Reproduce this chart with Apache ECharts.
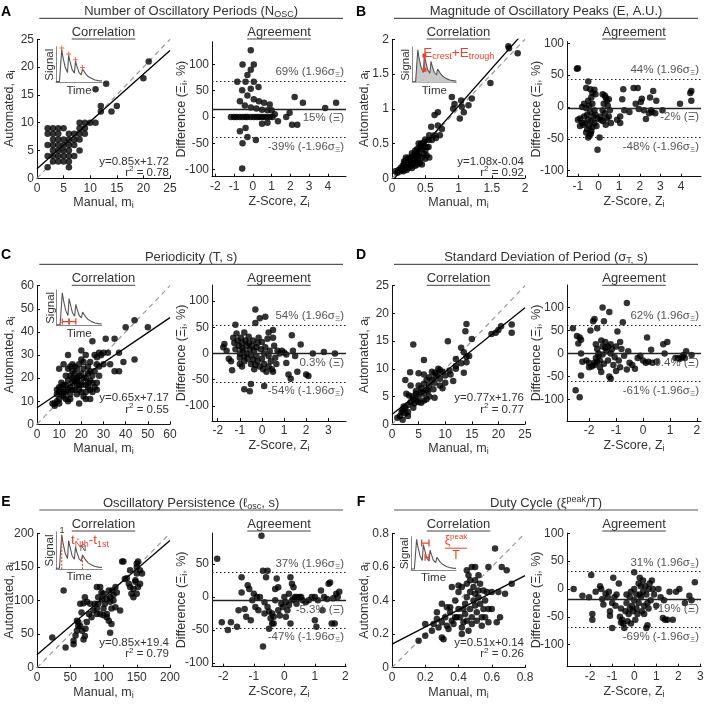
<!DOCTYPE html>
<html><head><meta charset="utf-8">
<script src="https://cdn.jsdelivr.net/npm/echarts@6/dist/echarts.min.js"></script>
<style>html,body{margin:0;padding:0;background:#fff}#c{width:708px;height:704px}</style>
</head><body><div id="c"></div>
<script>
// ---------------- DATA ----------------
const corrA = [[2,2],[2,4],[2,6],[2,8],[2,9],[3,3],[3,4],[3,5],[3,6],[3,7],[3,8],[3,9],[4,3],[4,4],[4,5],[4,6],[4,7],[4,8],[4,9],[5,3],[5,4],[5,5],[5,6],[5,7],[5,9],[6,2],[6,3],[6,4],[6,5],[6,6],[6,7],[6,8],[7,4],[7,6],[7,7],[7,8],[8,5],[8,7],[8,8],[8,9],[8,10],[9,8],[9,9],[9,10],[10,10],[11,10],[11,16],[12,12],[12,13],[13,17],[14,12],[15,13],[20,18],[21,21]];
const agrA = [[-0.11,127],[-0.55,100],[0.05,100],[-0.11,90],[-0.29,80],[-0.83,67],[-0.39,67],[0.05,67],[0.3,57],[-0.57,51],[-0.11,54],[-0.29,41],[0.05,34],[0.32,30],[0.6,27],[0.9,24],[-0.69,30],[-0.43,22],[-0.11,18],[0.19,16],[0.49,14],[0.78,13],[1.0,13],[1.17,5],[1.34,-8],[-1.17,0],[-1.0,0],[-0.87,0],[-0.7,0],[-0.55,0],[-0.4,0],[-0.29,0],[-0.11,0],[0.05,0],[0.2,0],[0.33,0],[0.47,0],[0.6,0],[0.75,0],[0.9,0],[1.05,0],[0.49,-13],[0.78,-11],[1.78,0],[1.96,8],[2.23,38],[2.09,-15],[2.37,-15],[2.67,27],[3.86,17],[4.44,27],[-0.69,-27],[-0.39,-21],[-0.29,-38],[-0.55,-50],[0.16,-44],[-0.57,-98]];

const corrB = [[1.75,1.9],[1.76,1.87],[1.89,1.8],[1.48,1.37],[1.2,1.15],[1.04,1.12],[0.9,1.17],[1.15,1.05],[0.94,1.07],[1.05,1.03],[0.92,1.0],[1.08,0.95],[1.02,0.86],[0.64,0.91],[0.69,0.95],[0.59,0.74],[0.69,0.76],[0.75,0.71],[0.72,0.62],[0.64,0.62],[0.66,0.58],[0.56,0.62],[0.6,0.55],[0.55,0.55],[0.5,0.56],[0.48,0.52],[0.44,0.5],[0.4,0.5],[0.47,0.47],[0.52,0.45],[0.5,0.4],[0.55,0.45],[0.45,0.42],[0.42,0.45],[0.38,0.42],[0.35,0.4],[0.4,0.38],[0.48,0.35],[0.52,0.33],[0.45,0.3],[0.56,0.3],[0.38,0.35],[0.34,0.34],[0.3,0.36],[0.3,0.3],[0.33,0.28],[0.28,0.28],[0.35,0.25],[0.4,0.25],[0.42,0.22],[0.38,0.2],[0.32,0.22],[0.28,0.24],[0.25,0.26],[0.22,0.27],[0.2,0.25],[0.25,0.2],[0.22,0.22],[0.3,0.2],[0.27,0.17],[0.24,0.15],[0.2,0.18],[0.18,0.2],[0.16,0.18],[0.19,0.14],[0.15,0.12],[0.13,0.15],[0.12,0.1],[0.1,0.12],[0.17,0.1],[0.22,0.12],[0.3,0.15],[0.35,0.18],[0.05,0.1],[0.08,0.08],[0.26,0.3],[0.32,0.32],[0.45,0.2],[0.5,0.28],[0.36,0.3],[0.18,0.24],[0.21,0.3],[0.4,0.32]];
const agrB = [[-1.05,60],[-1.0,61],[-0.5,40],[-0.6,30],[-0.4,28],[-0.2,27],[-0.3,22],[-0.15,20],[-0.35,15],[-0.5,10],[-0.7,5],[-0.8,0],[-0.6,-2],[-0.45,2],[-0.3,5],[-0.2,-5],[-0.4,-8],[-0.55,-12],[-0.7,-15],[-0.9,-18],[-0.8,-25],[-1.0,-20],[-0.65,-25],[-0.5,-20],[-0.35,-22],[-0.25,-15],[-0.45,-30],[-0.55,-35],[-0.35,-38],[-0.3,-32],[-0.45,-45],[-0.38,-42],[-0.5,-48],[-0.2,-25],[-0.1,-30],[-0.15,-12],[-0.05,-18],[0.1,-20],[-0.75,-28],[-0.9,-30],[-0.6,-40],[0.05,-48],[-0.05,-67],[0.2,20],[0.3,18],[0.35,15],[0.4,10],[0.5,12],[0.45,2],[0.25,5],[0.2,-5],[0.3,-10],[0.1,-15],[0.2,-22],[0.4,-18],[0.5,-15],[0.35,-28],[0.6,-25],[0.55,-5],[0.9,-20],[1.05,-15],[1.05,-25],[1.15,12],[1.2,28],[1.25,-5],[1.5,-8],[1.7,30],[1.8,5],[1.9,30],[1.95,-3],[2.05,8],[2.1,13],[2.3,-19],[2.2,-5],[2.5,15],[2.45,-10],[2.55,-5],[2.6,-8],[2.65,25],[2.8,10],[2.75,-10],[3.1,-5],[3.95,5],[4.45,22],[4.5,25],[4.5,10]];

const corrC = [[44,45],[50,42],[40,42],[44,28],[39,27],[35,37],[37,31],[31,37],[32,31],[28,31],[30,26],[33,26],[35,23],[37,23],[25,36],[20,32],[14,30],[10,24],[24,11],[22,11],[27,15],[7,9],[8,8],[8,9],[9,10],[10,11],[9,13],[10,14],[11,13],[12,12],[13,14],[11,16],[12,17],[14,15],[15,13],[13,11],[15,16],[16,18],[14,19],[13,21],[15,21],[16,20],[17,22],[18,17],[17,15],[18,13],[19,15],[20,18],[19,21],[18,24],[17,25],[16,23],[15,25],[20,22],[21,24],[22,20],[22,17],[23,22],[24,19],[25,21],[23,25],[21,27],[24,27],[26,23],[27,18],[27,26],[26,30],[27,29],[28,25],[22,14],[23,16],[25,14],[20,14],[21,12],[19,17],[18,20],[14,24],[16,26],[19,26],[20,28],[22,30],[12,26],[11,18],[10,16],[9,15],[13,17],[17,19],[21,20],[24,23],[20,17],[15,11],[14,10],[10,9],[26,16],[28,21],[29,30],[12,14],[16,15],[18,19],[23,18],[24,15],[19,9],[25,18],[30,31]];
const agrC = [[-0.3,84],[0.15,70],[-0.1,67],[-0.3,58],[-1.2,55],[0.5,45],[0.3,40],[-0.8,40],[-1.7,18],[-1.75,12],[-1.6,5],[-1.5,-10],[-1.4,-15],[-1.35,-32],[-1.3,30],[-1.25,20],[-1.2,8],[-1.15,38],[-1.1,25],[-1.05,15],[-1.0,0],[-1.0,-8],[-0.95,30],[-0.9,20],[-0.9,10],[-0.85,5],[-0.8,-5],[-0.8,-15],[-0.75,25],[-0.7,15],[-0.7,0],[-0.65,-10],[-0.6,32],[-0.6,20],[-0.55,8],[-0.5,-3],[-0.5,-20],[-0.45,15],[-0.4,25],[-0.4,-12],[-0.35,5],[-0.35,-30],[-0.3,-22],[-0.25,12],[-0.25,-5],[-0.2,20],[-0.2,-15],[-0.15,30],[-0.1,-25],[-0.05,8],[0.0,-10],[0.0,22],[0.05,-30],[0.1,0],[0.1,-20],[0.15,12],[0.2,-35],[0.25,28],[0.3,-5],[0.3,-25],[0.35,5],[0.4,-15],[0.45,-30],[0.5,30],[0.55,15],[0.6,-8],[0.65,-20],[0.7,5],[0.8,0],[0.9,5],[1.0,2],[1.1,-2],[1.2,-40],[1.3,-48],[1.35,35],[1.4,5],[1.5,-5],[1.6,-35],[1.75,17],[2.0,-40],[2.1,-43],[2.3,0],[2.8,3],[3.3,0],[-0.8,-68],[-0.55,-72],[-0.5,-58],[0.1,-62],[0.5,-35],[-1.0,-20],[-0.9,-25],[1.1,-18]];

const corrD = [[22.5,18],[22.5,16.5],[20.5,17.7],[20,17],[19.5,16.5],[18.7,16.3],[14,18.1],[13.8,16.8],[15,15.4],[10.5,15],[4,14.4],[13,13.8],[13.5,13],[14.5,12.3],[13,11],[14,11.2],[13.5,9.3],[12,11.8],[12,10.5],[11,9],[11.5,7.8],[10.8,9.7],[9.5,9.5],[8.7,10],[8,9.3],[7.5,8],[6,11.6],[5,9.2],[3.4,9.4],[2.5,8],[3.5,7],[2.7,5.5],[3.2,5.2],[4.5,6],[5,7],[5.5,6.5],[6,7.3],[6.5,8],[7,8.5],[6,5.5],[5,5],[4,4.5],[3.5,4],[2.5,3],[2,2.5],[1.5,1.5],[1,1.2],[2,0.8],[3,1.5],[2.5,2],[4,3],[5,4],[6,4.3],[7,5],[8,4.8],[8,7.5],[9,7],[9.5,6.5],[10,7.5],[8.5,9],[7,7],[6.5,6.2],[5.5,5.8],[4.5,5.5],[3,3.5],[2.2,3.2],[1.8,2.2],[3.8,5],[4.2,3.8],[6.8,6],[7.8,6.3],[9,8.2],[10,8.8],[6,9],[7.5,9.5],[8.2,8.7],[9,9.8],[12,10],[14,12.2],[3,2.2],[4.5,4.3],[5.5,3.9],[6.5,4.5]];
const agrD = [[-2.6,55],[-2.45,38],[-2.4,22],[-2.35,35],[-2.3,30],[-2.3,0],[-2.25,-18],[-2.3,-48],[-2.5,-80],[-2.35,-95],[-2.1,-15],[-2.0,-20],[-1.95,50],[-1.85,70],[-1.8,75],[-1.9,-28],[-1.8,-25],[-1.75,-10],[-1.7,10],[-1.75,20],[-1.65,-5],[-1.6,-30],[-1.55,-40],[-1.5,100],[-1.45,70],[-1.7,55],[-1.5,15],[-1.4,25],[-1.35,5],[-1.3,-15],[-1.25,90],[-1.2,20],[-1.25,-50],[-1.2,-55],[-1.15,10],[-1.1,-25],[-1.0,15],[-1.0,-38],[-0.95,48],[-0.85,-30],[-0.8,10],[-0.75,68],[-0.7,-5],[-0.6,110],[-0.55,5],[-0.6,-35],[-0.5,-20],[-0.4,-25],[-0.3,-33],[-0.2,-10],[-0.1,-5],[0,-15],[0.1,-20],[0.15,35],[0.2,-18],[0.3,8],[0.35,-20],[0.5,-18],[0.75,20],[0.8,0],[0.9,25],[1.2,-10],[1.3,-10],[1.35,-12],[1.45,-8],[1.5,-3],[1.55,-10],[1.6,5],[1.8,-3],[-1.6,-15],[-1.65,0],[-1.5,-2],[-1.45,-22],[-1.4,12],[-1.2,0],[-1.05,-8],[-0.9,-15],[-0.85,25],[-1.3,15],[-1.55,28],[-1.8,-20],[-2.0,-30],[-1.7,-18]];

const corrE = [[23,45],[43,30],[40,115],[55,35],[55,40],[58,48],[60,55],[62,62],[62,68],[60,70],[65,62],[68,55],[70,42],[72,47],[73,58],[75,68],[78,80],[65,95],[67,82],[70,96],[75,98],[72,105],[85,85],[87,95],[90,120],[95,120],[92,105],[97,112],[90,88],[90,80],[95,80],[100,88],[100,78],[105,80],[105,75],[108,70],[110,52],[112,65],[102,95],[105,102],[110,98],[115,108],[112,88],[118,90],[118,120],[113,115],[115,100],[120,112],[125,85],[128,158],[130,158],[132,132],[135,133],[138,125],[140,120],[142,110],[145,117],[148,128],[150,140],[150,150],[152,158],[155,145],[158,140],[155,125],[152,120],[150,110],[145,105],[148,130],[140,145],[150,155],[98,102],[92,95],[80,95],[82,75],[100,110],[108,115],[110,105]];
const agrE = [[-2.2,58],[-2.05,-38],[-1.85,-50],[-1.75,-38],[-1.55,-45],[-1.5,-20],[-1.4,30],[-1.4,7],[-1.3,-18],[-1.25,-30],[-1.2,18],[-1.15,12],[-1.1,-35],[-1.05,-5],[-1.0,5],[-0.95,-15],[-0.9,0],[-0.85,-20],[-0.8,0],[-0.75,93],[-0.7,40],[-0.7,-75],[-0.65,-8],[-0.6,30],[-0.55,40],[-0.55,-15],[-0.5,-48],[-0.5,-22],[-0.45,-32],[-0.4,-40],[-0.4,-25],[-0.35,-30],[-0.3,-5],[-0.3,12],[-0.25,28],[-0.2,-20],[-0.15,-28],[-0.1,-10],[-0.05,-15],[0,0],[0.05,-8],[0.1,-20],[0.15,5],[0.2,30],[0.2,-40],[0.25,-5],[0.3,15],[0.3,-3],[0.35,0],[0.4,0],[0.45,-2],[0.5,0],[0.55,0],[0.6,-5],[0.7,-8],[0.8,-5],[0.9,0],[1.0,-35],[1.05,-45],[1.1,-5],[1.2,10],[1.3,0],[1.4,-3],[1.45,20],[1.5,22],[1.55,-40],[1.6,-2],[1.65,-40],[1.7,5],[1.75,0],[1.8,8],[-0.2,15],[0.05,-30],[-0.65,-25],[0.25,20],[0.15,-12],[0.4,-10],[1.0,0],[1.25,-20],[-0.35,-40]];

const corrF = [[0.16,0.16],[0.2,0.19],[0.2,0.26],[0.24,0.22],[0.25,0.26],[0.27,0.29],[0.28,0.24],[0.3,0.18],[0.31,0.17],[0.3,0.27],[0.32,0.3],[0.33,0.25],[0.34,0.23],[0.33,0.36],[0.35,0.33],[0.36,0.28],[0.37,0.26],[0.38,0.3],[0.36,0.48],[0.38,0.4],[0.4,0.45],[0.4,0.35],[0.41,0.3],[0.42,0.24],[0.42,0.2],[0.43,0.27],[0.44,0.32],[0.44,0.38],[0.45,0.42],[0.45,0.5],[0.46,0.55],[0.47,0.45],[0.47,0.35],[0.48,0.3],[0.48,0.26],[0.49,0.4],[0.49,0.48],[0.5,0.52],[0.5,0.37],[0.51,0.33],[0.51,0.28],[0.52,0.42],[0.52,0.46],[0.53,0.38],[0.54,0.3],[0.54,0.25],[0.55,0.35],[0.55,0.46],[0.56,0.4],[0.57,0.45],[0.58,0.35],[0.58,0.6],[0.6,0.45],[0.62,0.71],[0.63,0.27],[0.64,0.45],[0.65,0.3],[0.66,0.6],[0.68,0.44],[0.69,0.58],[0.72,0.5],[0.48,0.6],[0.45,0.58],[0.4,0.49],[0.42,0.48],[0.5,0.6],[0.52,0.55],[0.3,0.38],[0.35,0.36],[0.27,0.33],[0.45,0.28],[0.46,0.22],[0.39,0.3],[0.43,0.35],[0.5,0.44],[0.47,0.52],[0.53,0.5],[0.56,0.3],[0.6,0.35],[0.58,0.27]];
const agrF = [[-2.75,0],[-2.35,-12],[-2.05,-15],[-1.95,25],[-1.9,-45],[-1.9,-55],[-1.75,-5],[-1.55,5],[-1.5,0],[-1.45,-18],[-1.4,-28],[-1.3,-8],[-1.2,-15],[-1.15,-5],[-1.1,-40],[-1.1,-48],[-1.0,-25],[-1.0,-70],[-0.95,20],[-0.9,-15],[-0.85,-30],[-0.8,-10],[-0.7,10],[-0.65,-50],[-0.6,-60],[-0.55,-55],[-0.5,-62],[-0.45,-70],[-0.4,-40],[-0.35,-25],[-0.3,-58],[-0.25,-45],[-0.2,-35],[-0.2,-15],[-0.15,-5],[-0.1,-30],[-0.05,-40],[0,-20],[0,0],[0,30],[0.05,-55],[0.1,-35],[0.1,-10],[0.15,-45],[0.2,-25],[0.2,10],[0.25,20],[0.3,-15],[0.35,-40],[0.4,15],[0.4,-5],[0.45,-30],[0.5,5],[0.55,-10],[0.55,-70],[0.6,-25],[0.6,-65],[0.65,0],[0.7,10],[0.75,-20],[0.8,15],[0.85,0],[0.9,-10],[1.0,-30],[1.1,0],[1.2,-15],[1.3,-52],[1.35,-20],[1.4,-55],[1.5,-55],[1.6,-5],[1.75,-55],[1.9,-5],[2.05,0],[2.3,-25],[2.5,-12],[2.6,-20],[2.75,12],[-0.35,-10],[-0.6,-35],[0.3,5],[0.45,-45],[-0.15,-62],[0.25,-10],[0.65,-35]];

const fitSlope = [0.85, 1.08, 0.65, 0.77, 0.85, 0.51];
const fitIntercept = [1.72, -0.04, 7.17, 1.76, 19.4, 0.14];
const fitR2 = [0.78, 0.92, 0.55, 0.77, 0.79, 0.26];
const meanDiff = [15, -2, 0.3, -0.4, -5.3, -19];
const upperLoA = [69, 44, 54, 62, 37, 31];
const lowerLoA = [-39, -48, -54, -61, -47, -69];

const corrTicks = [[0,5,10,15,20,25],[0,0.5,1,1.5,2],[0,10,20,30,40,50,60],[0,5,10,15,20,25],[0,50,100,150,200],[0,0.2,0.4,0.6,0.8]];
const agrXTicks = [[-2,-1,0,1,2,3,4],[-1,0,1,2,3,4],[-2,-1,0,1,2,3],[-2,-1,0,1,2],[-2,-1,0,1,2],[-2,-1,0,1,2,3]];
const agrYTicks = [[-100,-50,0,50,100],[-100,-50,0,50,100],[-100,-50,0,50,100],[-100,-50,0,50,100],[-100,-50,0,50],[-100,-50,0,50,100]];

const panelLetters = ['A','B','C','D','E','F'];
const panelTitles = ['Number of Oscillatory Periods (N{sub|OSC})','Magnitude of Oscillatory Peaks (E, A.U.)','Periodicity (T, s)','Standard Deviation of Period (σ{sub|T,} s)','Oscillatory Persistence (ℓ{sub|osc}, s)','Duty Cycle (ξ{sup|peak}/T)'];

// schematic signal for insets
const sigT = [0,3,4,5,6,8,10,11,12,14,16,17,18,20,22,23,24,26,28,31,34,37,40];
const sigY = [0.03,0.03,0.5,0.97,0.75,0.45,0.3,0.8,0.65,0.38,0.28,0.63,0.5,0.3,0.23,0.4,0.35,0.25,0.18,0.12,0.08,0.06,0.05];
const peakT = [5,11,17,23];
const peakY = [0.97,0.8,0.63,0.4];

// ---------------- LAYOUT ----------------
const FONT = '"Liberation Sans", Arial, sans-serif';
const TXT = '#333';
const RED = '#e8432e';
const corrData = [corrA, corrB, corrC, corrD, corrE, corrF];
const agrData = [agrA, agrB, agrC, agrD, agrE, agrF];
const corrMax = [25, 2, 60, 25, 200, 0.8];
const agrXRange = [[-2.18,4.97],[-1.53,4.97],[-2.26,3.8],[-2.82,2.15],[-2.37,2.02],[-3.05,3.03]];
const agrYRange = [[-113.7,143.4],[-109.5,102.6],[-128.6,130.5],[-146.7,148.9],[-105.5,97],[-139.4,100.4]];

const colCorrL = [37, 392], colAgrL = [212, 567], corrW = 133, agrW = 134;
const rowCorrT = [39.3, 285.7, 533.3], rowCorrH = [139, 138.6, 134.4];
const rowAgrT = [41.7, 285, 533], rowAgrH = [135, 136, 133.7];
const rowLetterY = [12, 255, 502], rowTitleY = [11.5, 257, 503], rowLineY = [18.3, 264.3, 510], rowSubY = [32, 278.3, 524];
const rowEqY = [[161.7,172.7],[397.5,410],[642.7,654.3]];
const titleSpan = [[39.3,343],[394,698]];
const insetBox = {0:[56,46.7,46,36],1:[412.3,47,44,35.7],2:[56.7,290,45,35.7],4:[56,531.7,46,37.6],5:[411,536.7,45,33.3]};

function richFor(color, fs){
  return {
    sub:{fontSize:Math.round(fs*0.7), lineHeight:8, verticalAlign:'bottom', fontFamily:FONT, color},
    sup:{fontSize:Math.round(fs*0.7), lineHeight:8, verticalAlign:'top', fontFamily:FONT, color}
  };
}

const grids=[], xAxes=[], yAxes=[], series=[], graphics=[];
function fmt(v){ return String(Math.round(v*100)/100); }

function addGrid(box){ grids.push(box); return grids.length-1; }
function addAxisPair(gi, xmin, xmax, xt, ymin, ymax, yt, xname, yname, xGap, yGap){
  const common = {type:'value', gridIndex:gi, splitLine:{show:false}, nameLocation:'middle', nameMoveOverlap:false,
    axisLine:{show:true, onZero:false, lineStyle:{color:'#111', width:1}},
    nameTextStyle:{color:TXT, fontSize:12.5, fontFamily:FONT, lineHeight:15, rich:richFor(TXT,12.5)}};
  xAxes.push(Object.assign({}, common, {min:xmin, max:xmax, name:xname, nameGap:xGap,
    axisTick:{show:true, inside:true, length:3, customValues:xt, lineStyle:{color:'#111'}},
    axisLabel:{show:true, customValues:xt, color:TXT, fontSize:12, fontFamily:FONT, margin:4, formatter:fmt, showMinLabel:true, showMaxLabel:true}}));
  yAxes.push(Object.assign({}, common, {min:ymin, max:ymax, name:yname, nameGap:yGap,
    axisTick:{show:true, inside:true, length:3, customValues:yt, lineStyle:{color:'#111'}},
    axisLabel:{show:true, customValues:yt, color:TXT, fontSize:12, fontFamily:FONT, margin:3, formatter:fmt, showMinLabel:true, showMaxLabel:true}}));
}

function text(x,y,str,opts){
  opts = opts||{};
  graphics.push(Object.assign({type:'text', silent:true, style:Object.assign({text:str, x, y, font:'13px '+FONT, fill:TXT, align:'center', verticalAlign:'middle', lineHeight:16, rich:richFor(opts.fill||TXT, opts.fs||13)}, opts.style||{})}, opts.el||{}));
}
function hline(x1,x2,y,color,w){
  graphics.push({type:'line', silent:true, shape:{x1,y1:y,x2,y2:y}, style:{stroke:color||'#555', lineWidth:w||1}});
}
const mctx = document.createElement('canvas').getContext('2d');
function tw(str, font){ mctx.font = font; return mctx.measureText(str).width; }

// main panels
for (let p=0; p<6; p++){
  const row = Math.floor(p/2), col = p%2;
  const gC = addGrid({left:colCorrL[col], top:rowCorrT[row], width:corrW, height:rowCorrH[row], containLabel:false});
  addAxisPair(gC, 0, corrMax[p], corrTicks[p], 0, corrMax[p], corrTicks[p], 'Manual, m{sub|i}', 'Automated, a{sub|i}', 17, 20);
  const gA = addGrid({left:colAgrL[col], top:rowAgrT[row], width:agrW, height:rowAgrH[row], containLabel:false});
  addAxisPair(gA, agrXRange[p][0], agrXRange[p][1], agrXTicks[p], agrYRange[p][0], agrYRange[p][1], agrYTicks[p], 'Z-Score, Z{sub|i}', 'Difference (Ξ{sub|i}, %)', 17, 23);

  const mx = corrMax[p];
  series.push({type:'line', xAxisIndex:gC, yAxisIndex:gC, data:[[0,0],[mx,mx]], symbol:'none', silent:true,
    lineStyle:{color:'#999', width:1.2, type:[5,4]}, z:1});
  series.push({type:'line', xAxisIndex:gC, yAxisIndex:gC, data:[[0,fitIntercept[p]],[mx,fitIntercept[p]+fitSlope[p]*mx]], symbol:'none', silent:true,
    lineStyle:{color:'#000', width:1.3}, z:2, clip:true});
  series.push({type:'scatter', xAxisIndex:gC, yAxisIndex:gC, data:corrData[p], symbolSize:6.5, itemStyle:{color:'#000'}, silent:true, z:3});

  const lab = {color:'#555', fontSize:11.5, fontFamily:FONT, lineHeight:14, rich:richFor('#555',11.5), distance:[2,2]};
  series.push({type:'scatter', xAxisIndex:gA, yAxisIndex:gA, data:agrData[p], symbolSize:6.5, itemStyle:{color:'#000'}, silent:true, z:3,
    markLine:{silent:true, symbol:'none', animation:false, data:[
      {yAxis:upperLoA[p], lineStyle:{type:[1.5,2.5], color:'#222', width:1.2}, label:Object.assign({}, lab, {position:'insideEndTop', formatter: upperLoA[p]+'% (1.96σ{sub|Ξ})'})},
      {yAxis:meanDiff[p], lineStyle:{type:'solid', color:'#222', width:1.3}, label:Object.assign({}, lab, {position:'insideEndBottom', formatter: meanDiff[p]+'% (Ξ\u0304)'})},
      {yAxis:lowerLoA[p], lineStyle:{type:[1.5,2.5], color:'#222', width:1.2}, label:Object.assign({}, lab, {position:'insideEndBottom', formatter: lowerLoA[p]+'% (-1.96σ{sub|Ξ})'})}
    ]}});

  const lx = col===0 ? 6 : 361;
  text(lx, rowLetterY[row], panelLetters[p], {style:{font:'bold 14px '+FONT, fill:'#000'}});
  const tc = (titleSpan[col][0]+titleSpan[col][1])/2;
  text(tc, rowTitleY[row], panelTitles[p], {style:{font:'13px '+FONT}, fs:13});
  hline(titleSpan[col][0], titleSpan[col][1], rowLineY[row], '#555', 1.2);
  const cc = colCorrL[col]+corrW/2, ac = colAgrL[col]+agrW/2;
  text(cc, rowSubY[row], 'Correlation');
  text(ac, rowSubY[row], 'Agreement');
  const w1 = tw('Correlation','13px '+FONT), w2 = tw('Agreement','13px '+FONT);
  hline(cc-w1/2, cc+w1/2, rowSubY[row]+7, '#444', 1);
  hline(ac-w2/2, ac+w2/2, rowSubY[row]+7, '#444', 1);
  const b = fitIntercept[p];
  const eq = 'y=' + fitSlope[p].toFixed(2) + 'x' + (b<0?'-':'+') + Math.abs(b);
  const rx = colCorrL[col]+corrW-1;
  text(rx, rowEqY[row][0], eq, {fs:11.5, style:{align:'right', font:'11.5px '+FONT}});
  text(rx, rowEqY[row][1], 'r{sup|2} = '+fitR2[p].toFixed(2), {fs:11.5, style:{align:'right', font:'11.5px '+FONT}});
}

// insets
for (let p=0; p<6; p++){
  if (!insetBox[p]) continue;
  const [il, it, iw, ih] = insetBox[p];
  const gi = addGrid({left:il, top:it, width:iw, height:ih, containLabel:false});
  const ax = {type:'value', gridIndex:gi, axisLabel:{show:false}, axisTick:{show:false}, splitLine:{show:false}, axisLine:{show:true, onZero:false, lineStyle:{color:'#888', width:1}}};
  xAxes.push(Object.assign({min:0, max:40}, ax));
  yAxes.push(Object.assign({min:0, max:1.05}, ax));
  const sig = sigT.map((t,i)=>[t, sigY[i]]);
  const s = {type:'line', xAxisIndex:gi, yAxisIndex:gi, data:sig, symbol:'none', silent:true, lineStyle:{color:'#555', width:1.1}, z:2};
  if (p===1) s.areaStyle = {color:'#c8c8c8', opacity:1};
  series.push(s);
  text(il-6, it+ih/2, 'Signal', {el:{rotation:Math.PI/2, x:il-6, y:it+ih/2}, style:{x:0, y:0, font:'11.5px '+FONT}});
  text(il+iw/2, it+ih+8, 'Time', {style:{font:'11.5px '+FONT}});
  if (p===0){
    series.push({type:'scatter', xAxisIndex:gi, yAxisIndex:gi, data:peakT.map((t,i)=>[t, peakY[i]+0.04]), silent:true,
      symbol:'path://M4,0L6,0L6,4L10,4L10,6L6,6L6,10L4,10L4,6L0,6L0,4L4,4Z', symbolSize:5, itemStyle:{color:RED}, z:4});
  }
  if (p===1){
    series.push({type:'line', xAxisIndex:gi, yAxisIndex:gi, data:[[peakT[1], peakY[1]],[peakT[1], 0.38]], silent:true,
      symbol:['none','arrow'], symbolSize:4, lineStyle:{color:RED, width:1.2}, itemStyle:{color:RED}, z:4});
    text(il+11, it+6, 'E{sub|crest}+E{sub|trough}', {fill:RED, fs:13.5, style:{align:'left', fill:RED, font:'13.5px '+FONT}});
  }
  if (p===2){
    for (let k=0;k<2;k++){
      series.push({type:'line', xAxisIndex:gi, yAxisIndex:gi, data:[[peakT[k],0.12],[peakT[k+1],0.12]], silent:true,
        symbol:'rect', symbolSize:[1.3,6], lineStyle:{color:RED, width:1.3}, itemStyle:{color:RED}, z:4});
    }
  }
  if (p===4){
    [0,3].forEach(k=>{
      series.push({type:'line', xAxisIndex:gi, yAxisIndex:gi, data:[[peakT[k],0],[peakT[k],peakY[k]]], silent:true,
        symbol:'none', lineStyle:{color:RED, width:1.1, type:[2,1.5]}, z:4});
    });
    text(il+6, it-1, '1', {style:{font:'9px '+FONT}});
    text(il+27, it+ih*0.45, 'N\u0302', {style:{font:'9px '+FONT}});
    text(il+15, it+9, 't{sub|N\u0302th}-t{sub|1st}', {fill:RED, fs:13.5, style:{align:'left', fill:RED, font:'13.5px '+FONT}});
  }
  if (p===5){
    series.push({type:'line', xAxisIndex:gi, yAxisIndex:gi, data:[[9.5,0.85],[16,0.85]], silent:true,
      symbol:'rect', symbolSize:[1.3,7], lineStyle:{color:RED, width:1.3}, itemStyle:{color:RED}, z:4});
    series.push({type:'line', xAxisIndex:gi, yAxisIndex:gi, data:[[12.5,0.4],[16,0.4]], silent:true,
      symbol:'rect', symbolSize:[1.3,7], lineStyle:{color:RED, width:1.3}, itemStyle:{color:RED}, z:4});
    text(il+45, it+4, 'ξ{sup|peak}', {fill:RED, fs:12, style:{fill:RED, font:'12px '+FONT}});
    hline(il+34, il+56, it+11.5, RED, 1);
    text(il+45, it+19, 'T', {fill:RED, style:{fill:RED, font:'12px '+FONT}});
  }
}

const chart = echarts.init(document.getElementById('c'), null, {renderer:'canvas', width:708, height:704});
chart.setOption({
  animation:false,
  backgroundColor:'#fff',
  grid:grids, xAxis:xAxes, yAxis:yAxes, series:series, graphic:graphics
});
</script></body></html>
